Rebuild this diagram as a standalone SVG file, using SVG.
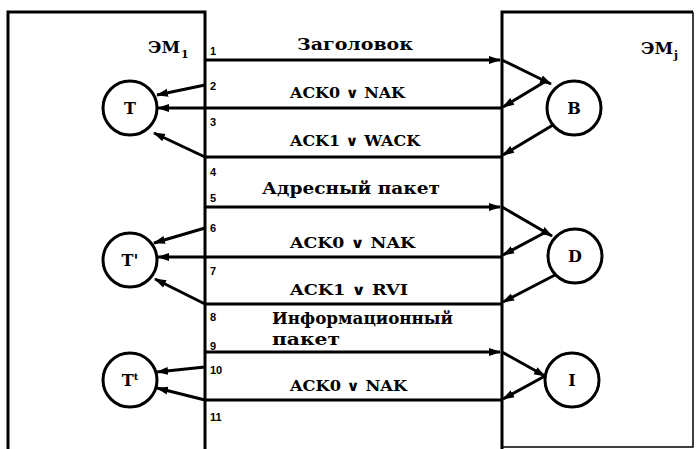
<svg xmlns="http://www.w3.org/2000/svg" width="697" height="449" viewBox="0 0 697 449">
<defs>
<marker id="ah" markerUnits="userSpaceOnUse" markerWidth="12" markerHeight="10" refX="11" refY="5" orient="auto">
<path d="M0,1 L12,5 L0,9 Z" fill="#000"/>
</marker>
<style>
.box{fill:none;stroke:#000;stroke-width:3}
.thin{fill:none;stroke:#000;stroke-width:1.5}
.c{fill:#fff;stroke:#000;stroke-width:3}
.ln{fill:none;stroke:#000;stroke-width:3;marker-end:url(#ah)}
.pl{fill:none;stroke:#000;stroke-width:3}
text{font-family:'DejaVu Serif','Liberation Serif',serif;font-weight:bold;fill:#000}
.lbl{font-size:14px}
.big{font-size:17px}
.num{font-family:'Liberation Sans',sans-serif;font-size:11px}
.nd{font-size:16px;text-anchor:middle}
.em{font-size:16px}
</style>
</defs>
<rect width="697" height="449" fill="#fff"/>

<g id="em1">
<path class="box" d="M8,449 V12 H205 V449"/>
<text class="em" x="148" y="53" textLength="32" lengthAdjust="spacingAndGlyphs">ЭМ</text>
<text x="181" y="58" font-size="11">1</text>
</g>
<g id="emj">
<path class="box" d="M502,449 V12 H693"/>
<path class="thin" d="M693,12 V447 H502"/>
<text class="em" x="641" y="54" textLength="32" lengthAdjust="spacingAndGlyphs">ЭМ</text>
<text x="674" y="59" font-size="11">j</text>
</g>

<g id="nT1"><circle class="c" cx="130" cy="108" r="27"/><text class="nd" x="130" y="114">T</text></g>
<g id="nT2"><circle class="c" cx="130" cy="260" r="27"/><text class="nd" x="130" y="266">T'</text></g>
<g id="nT3"><circle class="c" cx="130" cy="380" r="27"/><text class="nd" x="130" y="386">T<tspan font-size="10" dy="-6">t</tspan></text></g>
<g id="nB"><circle class="c" cx="574" cy="108" r="27"/><text class="nd" x="574" y="114">B</text></g>
<g id="nD"><circle class="c" cx="575" cy="256" r="27"/><text class="nd" x="575" y="262">D</text></g>
<g id="nI"><circle class="c" cx="572" cy="380" r="27"/><text class="nd" x="572" y="386">I</text></g>

<g id="connectors">
<line class="ln" x1="205" y1="60" x2="500" y2="60"/>
<line class="ln" x1="502" y1="108" x2="158" y2="108"/>
<line class="pl" x1="205" y1="157" x2="502" y2="157"/>
<line class="ln" x1="205" y1="207" x2="500" y2="207"/>
<line class="ln" x1="502" y1="257" x2="158" y2="257"/>
<line class="pl" x1="205" y1="304" x2="502" y2="304"/>
<line class="ln" x1="205" y1="352" x2="500" y2="352"/>
<line class="pl" x1="205" y1="400" x2="502" y2="400"/>
<line class="ln" x1="502" y1="60" x2="551" y2="84"/>
<line class="ln" x1="546" y1="81" x2="503" y2="107"/>
<line class="ln" x1="553" y1="125" x2="503" y2="155"/>
<line class="ln" x1="502" y1="207" x2="552" y2="236"/>
<line class="ln" x1="546" y1="232" x2="503" y2="255"/>
<line class="ln" x1="555" y1="275" x2="503" y2="302"/>
<line class="ln" x1="502" y1="352" x2="545" y2="376"/>
<line class="ln" x1="545" y1="376" x2="503" y2="399"/>
<line class="ln" x1="205" y1="85" x2="157" y2="95"/>
<line class="ln" x1="205" y1="157" x2="154" y2="133"/>
<line class="ln" x1="205" y1="228" x2="154" y2="243"/>
<line class="ln" x1="205" y1="304" x2="155" y2="279"/>
<line class="ln" x1="205" y1="367" x2="157" y2="372"/>
<line class="ln" x1="205" y1="400" x2="157" y2="388"/>
</g>

<g id="labels">
<text class="big" x="297" y="50" textLength="116" lengthAdjust="spacingAndGlyphs">Заголовок</text>
<text class="lbl" x="290" y="98" textLength="115" lengthAdjust="spacingAndGlyphs">ACK0 ∨ NAK</text>
<text class="lbl" x="290" y="146" textLength="130" lengthAdjust="spacingAndGlyphs">ACK1 ∨ WACK</text>
<text class="big" x="262" y="194" textLength="178" lengthAdjust="spacingAndGlyphs">Адресный пакет</text>
<text class="lbl" x="290" y="248" textLength="125" lengthAdjust="spacingAndGlyphs">ACK0 ∨ NAK</text>
<text class="lbl" x="290" y="295" textLength="118" lengthAdjust="spacingAndGlyphs">ACK1 ∨ RVI</text>
<text class="big" x="272" y="324" textLength="181" lengthAdjust="spacingAndGlyphs">Информационный</text>
<text class="big" x="272" y="345" textLength="68" lengthAdjust="spacingAndGlyphs">пакет</text>
<text class="lbl" x="290" y="391" textLength="117" lengthAdjust="spacingAndGlyphs">ACK0 ∨ NAK</text>
</g>

<g id="numbers">
<text class="num" x="210" y="55">1</text>
<text class="num" x="210" y="90">2</text>
<text class="num" x="210" y="126">3</text>
<text class="num" x="210" y="176">4</text>
<text class="num" x="210" y="202">5</text>
<text class="num" x="210" y="232">6</text>
<text class="num" x="210" y="275">7</text>
<text class="num" x="210" y="321">8</text>
<text class="num" x="210" y="350">9</text>
<text class="num" x="210" y="374">10</text>
<text class="num" x="210" y="421">11</text>
</g>
</svg>
